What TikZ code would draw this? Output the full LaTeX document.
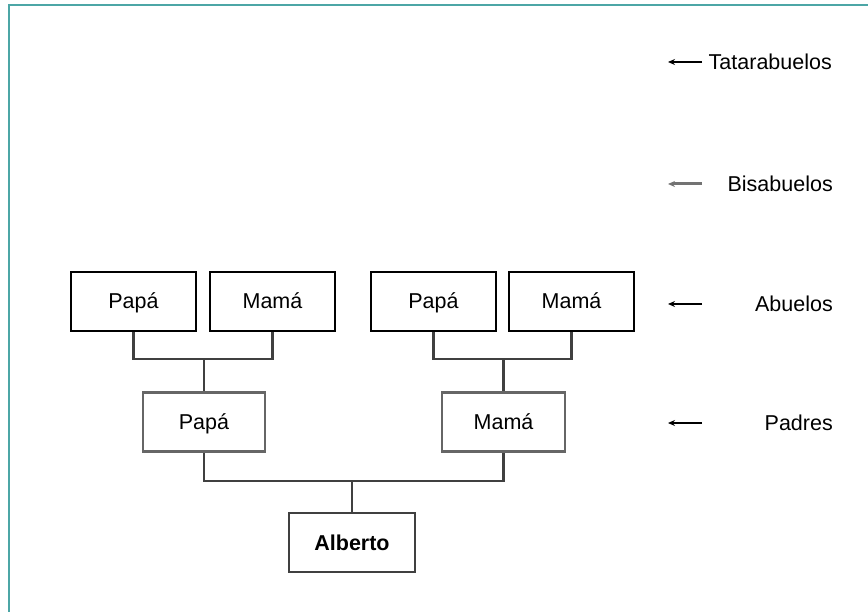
\documentclass[tikz,border=0pt]{standalone}
\usepackage{fontspec}
\setmainfont{Liberation Sans}
\usetikzlibrary{arrows.meta}
\begin{document}
\begin{tikzpicture}[x=1pt,y=-1pt,
    font=\fontsize{21.5}{25}\selectfont,
    person/.style={draw,line width=2.2pt,minimum width=125pt,minimum height=59pt,inner sep=0pt,
      text height=17pt,text depth=2pt},
    parent/.style={person,draw=black!60},
    link/.style={line width=2.4pt,draw=black!75},
    level/.style={anchor=east,inner sep=0pt},
    pointer/.style={-{Stealth[length=7pt,width=6pt]},line width=1.6pt}]
  \useasboundingbox (0,0) rectangle (868,612);
  \draw[line width=2pt,draw=teal!70] (9,612) -- (9,5) -- (868,5);
  \draw
    (133.5,301.5) node[person] (gp1){Papá}
    (272.5,301.5) node[person] (gm1){Mamá}
    (433.5,301.5) node[person] (gp2){Papá}
    (571.5,301.5) node[person] (gm2){Mamá}
    (204,422) node[parent,minimum width=122pt] (pa){Papá}
    (503.5,422) node[parent,minimum width=123pt] (ma){Mamá}
    (352,542.5) node[person,minimum width=126pt,draw=black!75] (me){\bfseries Alberto};
  \coordinate (j1) at (pa.north |- 0,359);
  \coordinate (j2) at (ma.north |- 0,359);
  \coordinate (j3) at (me.north |- 0,481);
  \begin{scope}[link]
    \draw (gp1.south) |- (j1) -| (gm1.south);
    \draw (j1) -- (pa.north);
    \draw (gp2.south) |- (j2) -| (gm2.south);
    \draw (j2) -- (ma.north);
    \draw (pa.south) |- (j3) -| (ma.south);
    \draw (j3) -- (me.north);
  \end{scope}
  \draw
    (832,62) node[level] (l4){Tatarabuelos}
    (833,184) node[level] (l3){Bisabuelos}
    (833,304) node[level] (l2){Abuelos}
    (833,423) node[level] (l1){Padres};
  \foreach \y/\c in {62/t4,184/t3,304/t2,423/t1}{
    \coordinate (\c a) at (702,\y);
    \coordinate (\c b) at (668,\y);
  }
  \draw[pointer,line width=2.2pt] (t4a) -- (t4b);
  \draw[pointer,draw=black!55,line width=3pt] (t3a) -- (t3b);
  \draw[pointer] (t2a) -- (t2b);
  \draw[pointer,line width=1.4pt] (t1a) -- (t1b);
\end{tikzpicture}
\end{document}
